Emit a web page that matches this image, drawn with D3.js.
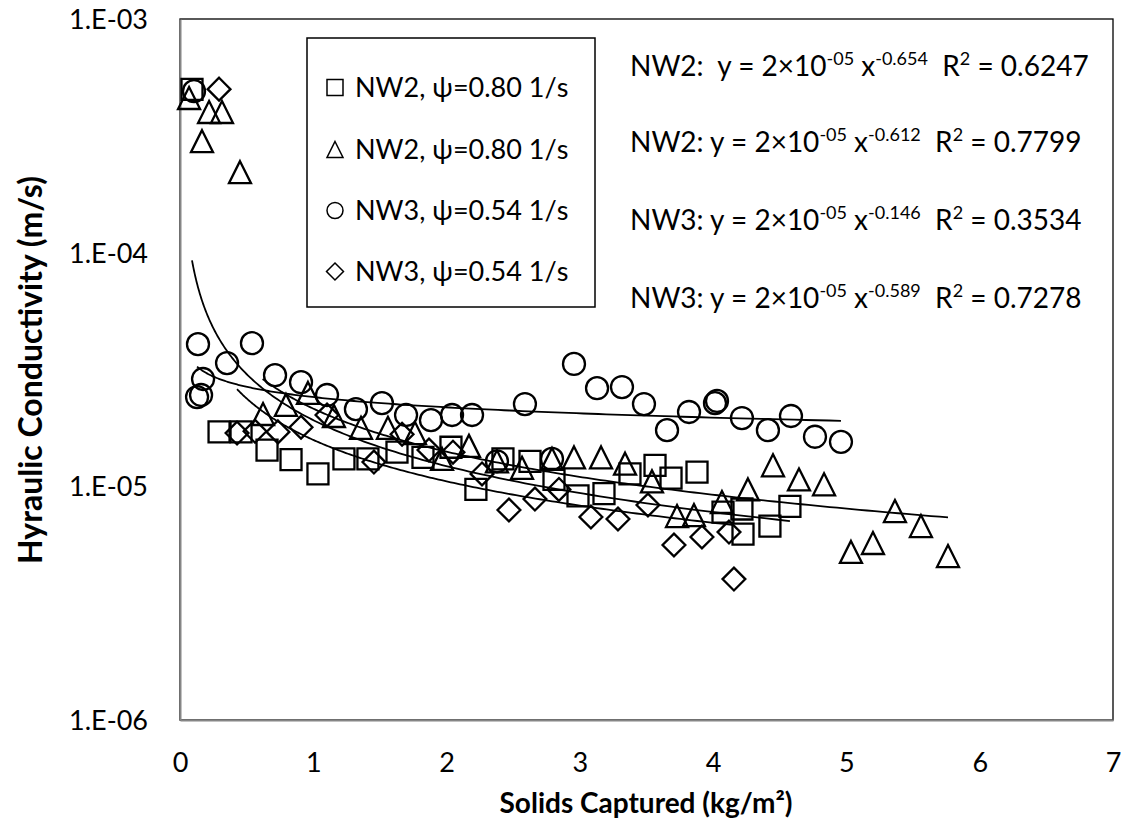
<!DOCTYPE html>
<html>
<head>
<meta charset="utf-8">
<script src="https://cdn.jsdelivr.net/npm/d3@7"></script>
<style>
  html, body { margin: 0; padding: 0; background: #fff; }
  svg text { font-family: Lato, "Open Sans", "DejaVu Sans", sans-serif; fill: #000; white-space: pre; }
</style>
</head>
<body>
<svg id="chart" width="1126" height="828"></svg>
<script>
// ---------------- DATA ----------------
const xTickValues = [0, 1, 2, 3, 4, 5, 6, 7];
const yTickValues = [1e-3, 1e-4, 1e-5, 1e-6];
const yTickLabels = ["1.E-03", "1.E-04", "1.E-05", "1.E-06"];

const seriesNames = ["NW2, \u03C8=0.80 1/s", "NW2, \u03C8=0.80 1/s", "NW3, \u03C8=0.54 1/s", "NW3, \u03C8=0.54 1/s"];
const seriesShapes = ["square", "triangle", "circle", "diamond"];

// NW2 (squares)
const nw2aX = [0.09, 0.293, 0.458, 0.653, 0.833, 1.035, 1.23, 1.41, 1.628, 1.823, 2.033, 2.22, 2.423, 2.626, 2.806, 2.986, 3.181, 3.376, 3.564, 3.684, 3.879, 4.074, 4.216, 4.224, 4.426, 4.576];
const nw2aY = [5.0e-4, 1.71e-5, 1.71e-5, 1.43e-5, 1.30e-5, 1.13e-5, 1.31e-5, 1.31e-5, 1.40e-5, 1.33e-5, 1.47e-5, 9.7e-6, 1.31e-5, 1.28e-5, 1.07e-5, 9.1e-6, 9.3e-6, 1.13e-5, 1.23e-5, 1.085e-5, 1.15e-5, 7.76e-6, 8.0e-6, 6.25e-6, 6.76e-6, 8.2e-6];
// NW2 (triangles)
const nw2bX = [0.068, 0.218, 0.315, 0.165, 0.450, 0.623, 0.795, 0.960, 1.155, 1.358, 1.560, 1.763, 1.966, 2.168, 2.378, 2.566, 2.791, 2.956, 3.159, 3.339, 3.541, 3.729, 3.856, 4.066, 4.261, 4.449, 4.644, 4.832, 5.034, 5.199, 5.364, 5.559, 5.762];
const nw2bY = [4.59e-4, 4.0e-4, 4.0e-4, 3.0e-4, 2.21e-4, 2.04e-5, 2.23e-5, 2.51e-5, 2.0e-5, 1.78e-5, 1.78e-5, 1.69e-5, 1.31e-5, 1.49e-5, 1.28e-5, 1.20e-5, 1.31e-5, 1.33e-5, 1.33e-5, 1.25e-5, 1.05e-5, 7.46e-6, 7.53e-6, 8.57e-6, 9.7e-6, 1.23e-5, 1.07e-5, 1.02e-5, 5.24e-6, 5.72e-6, 7.84e-6, 6.76e-6, 5.03e-6];
// NW3 (circles)
const nw3aX = [0.105, 0.135, 0.540, 0.353, 0.173, 0.128, 0.158, 0.713, 0.908, 1.103, 1.320, 1.515, 1.696, 1.883, 2.041, 2.191, 2.378, 2.588, 2.791, 2.956, 3.129, 3.316, 3.481, 3.654, 3.819, 4.014, 4.029, 4.216, 4.411, 4.584, 4.764, 4.959];
const nw3aY = [4.91e-4, 4.06e-5, 4.10e-5, 3.37e-5, 2.88e-5, 2.41e-5, 2.46e-5, 2.99e-5, 2.79e-5, 2.46e-5, 2.14e-5, 2.27e-5, 2.02e-5, 1.92e-5, 2.02e-5, 2.02e-5, 1.28e-5, 2.25e-5, 1.31e-5, 3.34e-5, 2.63e-5, 2.66e-5, 2.25e-5, 1.74e-5, 2.08e-5, 2.27e-5, 2.32e-5, 1.96e-5, 1.74e-5, 2.0e-5, 1.63e-5, 1.55e-5];
// NW3 (diamonds)
const nw3bX = [0.293, 0.428, 0.563, 0.735, 0.908, 1.103, 1.455, 1.666, 1.868, 2.048, 2.266, 2.468, 2.663, 2.843, 3.083, 3.286, 3.511, 3.706, 3.916, 4.119, 4.156];
const nw3bY = [5.01e-4, 1.69e-5, 1.72e-5, 1.71e-5, 1.79e-5, 2.02e-5, 1.27e-5, 1.67e-5, 1.43e-5, 1.40e-5, 1.13e-5, 7.92e-6, 8.82e-6, 9.7e-6, 7.39e-6, 7.25e-6, 8.32e-6, 5.61e-6, 6.07e-6, 6.37e-6, 4.01e-6];

// power trendlines y = a * x^b (coefficients as drawn)
const trendCoef = [1.92e-5, 2.15e-5, 2.41e-5, 1.58e-5];
const trendExp  = [-0.654, -0.612, -0.146, -0.589];
const trendFrom = [0.09, 0.62, 0.128, 0.428];
const trendTo   = [4.576, 5.762, 4.959, 4.156];

// equation labels
const eqNames = ["NW2:  ", "NW2: ", "NW3: ", "NW3: "];
const eqCoefBase = "2\u00D710";
const eqCoefExp = "-05";
const eqExps = ["-0.654", "-0.612", "-0.146", "-0.589"];
const eqR2 = ["0.6247", "0.7799", "0.3534", "0.7278"];

const xTitle = "Solids Captured (kg/m\u00B2)";
const yTitle = "Hyraulic Conductivity (m/s)";

// ---------------- CHART ----------------
const svg = d3.select("#chart");
const M = { left: 180, right: 1113, top: 19, bottom: 720 };
const x = d3.scaleLinear().domain([0, 7]).range([M.left, M.right]);
const y = d3.scaleLog().domain([1e-6, 1e-3]).range([M.bottom, M.top]);

svg.append("rect").attr("width", 1126).attr("height", 828).attr("fill", "#fff");

// plot frame
svg.append("rect")
  .attr("x", M.left).attr("y", M.top)
  .attr("width", M.right - M.left).attr("height", M.bottom - M.top)
  .attr("fill", "none").attr("stroke", "#000").attr("stroke-width", 1.3);

// axes (no tick marks)
const xAxis = d3.axisBottom(x).tickValues(xTickValues).tickSize(0).tickPadding(0).tickFormat(d3.format("d"));
const gx = svg.append("g").attr("transform", `translate(0,${M.bottom})`).call(xAxis);
gx.select(".domain").attr("stroke", "#868686").attr("stroke-width", 2);
gx.selectAll(".tick text").attr("font-size", 27).attr("dy", null).attr("y", 52)
  .style("font-family", "Lato, sans-serif");

const yAxis = d3.axisLeft(y).tickValues(yTickValues).tickSize(0).tickPadding(0)
  .tickFormat((d, i) => yTickLabels[i]);
const gy = svg.append("g").attr("transform", `translate(${M.left},0)`).call(yAxis);
gy.select(".domain").attr("stroke", "#868686").attr("stroke-width", 2);
gy.selectAll(".tick text").attr("font-size", 27).attr("x", -32).attr("dy", "0.35em")
  .style("font-family", "Lato, sans-serif");

// symbol types
const symTypes = {
  square: { draw(c, s) { const r = Math.sqrt(s) / 2; c.moveTo(-r, -r); c.lineTo(r, -r); c.lineTo(r, r); c.lineTo(-r, r); c.closePath(); } },
  triangle: { draw(c, s) { const r = Math.sqrt(s) / 2; c.moveTo(0, -r); c.lineTo(r, r); c.lineTo(-r, r); c.closePath(); } },
  circle: { draw(c, s) { const r = Math.sqrt(s) / 2; c.moveTo(r, 0); c.arc(0, 0, r, 0, 2 * Math.PI); c.closePath(); } },
  diamond: { draw(c, s) { const r = Math.sqrt(s) / 2 * 1.06; c.moveTo(0, -r); c.lineTo(r, 0); c.lineTo(0, r); c.lineTo(-r, 0); c.closePath(); } }
};

const seriesX = [nw2aX, nw2bX, nw3aX, nw3bX];
const seriesY = [nw2aY, nw2bY, nw3aY, nw3bY];
const markerSize = [21, 22, 22, 21.5];

// trendlines
const line = d3.line().x(d => x(d[0])).y(d => y(d[1])).curve(d3.curveLinear);
trendCoef.forEach((a, i) => {
  const n = 200;
  const pts = d3.range(n + 1).map(k => {
    const xv = trendFrom[i] * Math.pow(trendTo[i] / trendFrom[i], k / n);
    return [xv, a * Math.pow(xv, trendExp[i])];
  });
  svg.append("path").datum(pts).attr("d", line)
    .attr("fill", "none").attr("stroke", "#000").attr("stroke-width", 1.8);
});

// markers
seriesX.forEach((xs, i) => {
  const pts = xs.map((v, k) => [v, seriesY[i][k]]);
  const sym = d3.symbol().type(symTypes[seriesShapes[i]]).size(markerSize[i] * markerSize[i]);
  svg.append("g").selectAll("path").data(pts).join("path")
    .attr("transform", d => `translate(${x(d[0])},${y(d[1])})`)
    .attr("d", sym)
    .attr("fill", "none").attr("stroke", "#000").attr("stroke-width", 2.3);
});

// legend
const lg = svg.append("g");
lg.append("rect").attr("x", 307).attr("y", 38).attr("width", 288).attr("height", 269)
  .attr("fill", "#fff").attr("stroke", "#000").attr("stroke-width", 1.5);
const legendBase = [97, 159, 220, 281];
seriesNames.forEach((nm, i) => {
  const sym = d3.symbol().type(symTypes[seriesShapes[i]]).size(16 * 16);
  lg.append("path").attr("transform", `translate(335,${legendBase[i] - 9.5})`).attr("d", sym)
    .attr("fill", "none").attr("stroke", "#000").attr("stroke-width", 1.5);
  lg.append("text").attr("x", 355).attr("y", legendBase[i]).attr("font-size", 27).text(nm);
});

// equations
const eqBase = [76, 152, 230, 308];
eqNames.forEach((nm, i) => {
  const t = svg.append("text").attr("x", 630).attr("y", eqBase[i]).attr("font-size", 28);
  t.append("tspan").text(nm + "y = " + eqCoefBase);
  t.append("tspan").attr("font-size", 18).attr("dy", -11).text(eqCoefExp);
  t.append("tspan").attr("dy", 11).text(" x");
  t.append("tspan").attr("font-size", 18).attr("dy", -11).text(eqExps[i]);
  t.append("tspan").attr("dy", 11).text("  R");
  t.append("tspan").attr("font-size", 18).attr("dy", -11).text("2");
  t.append("tspan").attr("dy", 11).text(" = " + eqR2[i]);
});

// axis titles
svg.append("text").attr("x", 646).attr("y", 813).attr("text-anchor", "middle")
  .attr("font-size", 28).attr("font-weight", "bold").text(xTitle);
svg.append("text").attr("transform", "translate(42,370) rotate(-90)").attr("text-anchor", "middle")
  .attr("font-size", 32).attr("font-weight", "bold").text(yTitle);
</script>
</body>
</html>
